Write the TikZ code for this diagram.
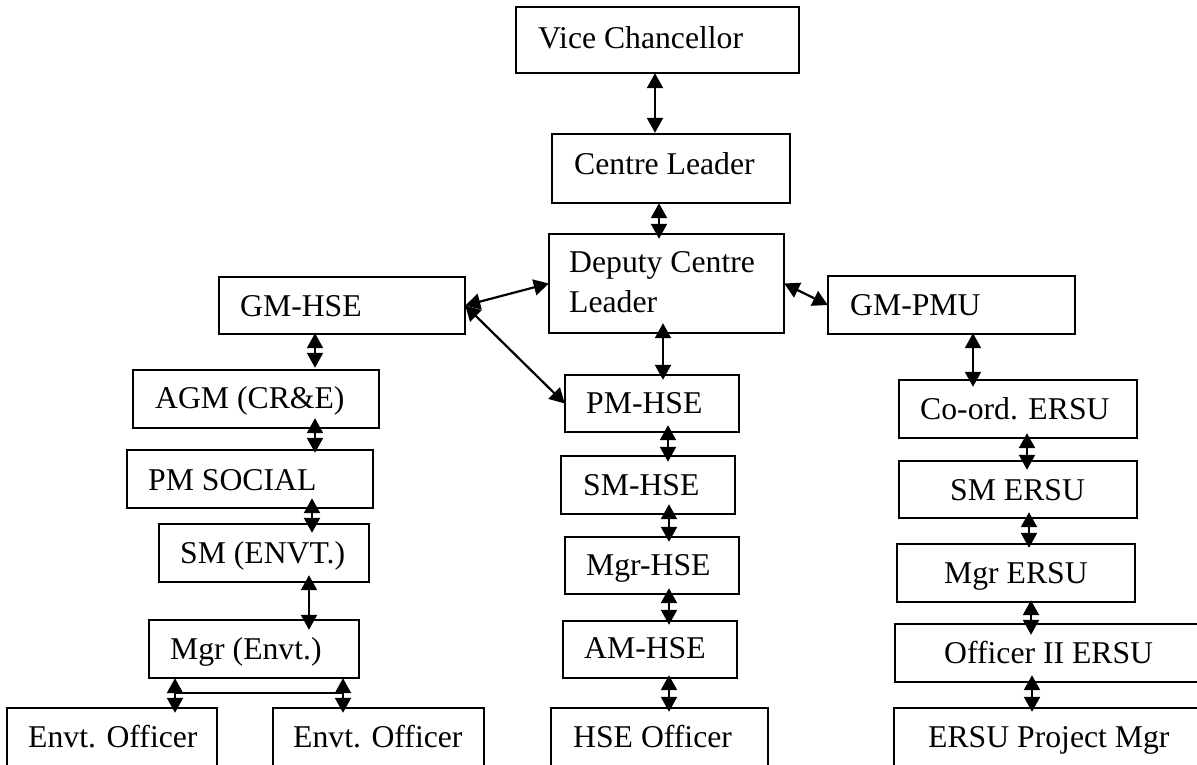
\documentclass[tikz,border=0pt]{standalone}
\usepackage{fontspec}
\setmainfont{Liberation Serif}
\usetikzlibrary{arrows.meta,calc}
\tikzset{
  boxst/.style={draw=black, line width=2pt, inner sep=0pt, fill=none},
  lbl/.style={anchor=base west, inner sep=0pt, font=\fontsize{31.7}{40}\selectfont},
  dbl/.style={{Triangle[length=15pt,width=16pt]}-{Triangle[length=15pt,width=16pt]}, line width=2.2pt},
}
% \bx{name}{x1}{y1}{x2}{y2}
\newcommand\bx[5]{\path[boxst] (#2,#3) rectangle (#4,#5);
  \node[inner sep=0pt, minimum width={(#4-#2)*1pt}, minimum height={(#5-#3)*1pt}] (#1) at ({(#2+#4)/2},{(#3+#5)/2}) {};}
% \vconn{upper}{lower}{x}{dy upper}{dy lower}
\newcommand\vconn[5]{\draw[dbl] ($(#1.south -| #3,0)+(0,#4)$) -- ($(#2.north -| #3,0)+(0,#5)$);}
\begin{document}
\begin{tikzpicture}[x=1pt,y=-1pt]
\useasboundingbox (0,0) rectangle (1197,765);
\clip (0,0) rectangle (1197,765);
\fill[white] (0,0) rectangle (1197,765);
% boxes
\bx{vc}{516}{7}{799}{73}
\bx{cl}{552}{134}{790}{203}
\bx{dcl}{549}{234}{784}{333}
\bx{gmhse}{219}{277}{465}{334}
\bx{agm}{133}{370}{379}{428}
\bx{pms}{127}{450}{373}{508}
\bx{sme}{159}{524}{369}{582}
\bx{mgre}{149}{620}{359}{678}
\bx{eoa}{7}{708}{217}{800}
\bx{eob}{273}{708}{484}{800}
\bx{gmpmu}{828}{276}{1075}{334}
\bx{coord}{899}{380}{1137}{438}
\bx{smersu}{899}{461}{1137}{518}
\bx{mgrersu}{897}{544}{1135}{602}
\bx{offii}{895}{624}{1230}{682}
\bx{epm}{894}{708}{1230}{800}
\bx{pmhse}{565}{375}{739}{432}
\bx{smhse}{561}{456}{735}{514}
\bx{mgrhse}{565}{537}{739}{594}
\bx{amhse}{563}{621}{737}{678}
\bx{hseo}{551}{708}{768}{800}
% labels
\node[lbl] (vct) at (538,49) {Vice Chancellor};
\node[lbl] (clt) at (574,175) {Centre Leader};
\node[lbl] (dclta) at (569,272) {Deputy Centre};
\node[lbl] (dcltb) at (569,312) {Leader};
\node[lbl] (gmhset) at (240,316) {GM-HSE};
\node[lbl] (agmt) at (155,408) {AGM (CR\&E)};
\node[lbl] (pmst) at (148,490) {PM SOCIAL};
\node[lbl] (smet) at (180,563) {SM (ENVT.)};
\node[lbl] (mgret) at (170,659) {Mgr (Envt.)};
\node[lbl] (eoat) at (28,747) {Envt. Officer};
\node[lbl] (eobt) at (293,747) {Envt. Officer};
\node[lbl] (gmpmut) at (850,315) {GM-PMU};
\node[lbl] (coordt) at (920,419) {Co-ord. ERSU};
\node[lbl] (smersut) at (950,500) {SM ERSU};
\node[lbl] (mgrersut) at (944,583) {Mgr ERSU};
\node[lbl] (offiit) at (944,663) {Officer II ERSU};
\node[lbl] (epmt) at (928,747) {ERSU Project Mgr};
\node[lbl] (pmhset) at (586,413) {PM-HSE};
\node[lbl] (smhset) at (583,495) {SM-HSE};
\node[lbl] (mgrhset) at (586,575) {Mgr-HSE};
\node[lbl] (amhset) at (584,658) {AM-HSE};
\node[lbl] (hseot) at (573,747) {HSE Officer};
% centre column connectors
\vconn{vc}{cl}{655}{0}{-1}
\vconn{cl}{dcl}{659}{0}{5}
\vconn{dcl}{pmhse}{663}{-10}{5}
\vconn{pmhse}{smhse}{668}{-7}{6}
\vconn{smhse}{mgrhse}{669}{-10}{5}
\vconn{mgrhse}{amhse}{669}{-6}{4}
\vconn{amhse}{hseo}{669}{-3}{4}
% cross connectors
\draw[dbl] (gmhse.east) -- (dcl.west);
\draw[dbl] (gmhse.east) -- (pmhse.west);
\draw[dbl] (dcl.east) -- (gmpmu.west);
% left column
\vconn{gmhse}{agm}{315}{-1}{-2}
\vconn{agm}{pms}{315}{-10}{3}
\vconn{pms}{sme}{312}{-10}{9}
\vconn{sme}{mgre}{309}{-7}{10}
\vconn{mgre}{eoa}{175}{0}{5}
\vconn{mgre}{eob}{343}{0}{5}
\coordinate (ja) at (175,693);
\coordinate (jb) at (343,693);
\draw[line width=2pt] (ja) -- (jb);
% right column
\vconn{gmpmu}{coord}{973}{-1}{7}
\vconn{coord}{smersu}{1027}{-5}{9}
\vconn{smersu}{mgrersu}{1029}{-6}{4}
\vconn{mgrersu}{offii}{1031}{-2}{11}
\vconn{offii}{epm}{1032}{-7}{4}
\end{tikzpicture}
\end{document}
